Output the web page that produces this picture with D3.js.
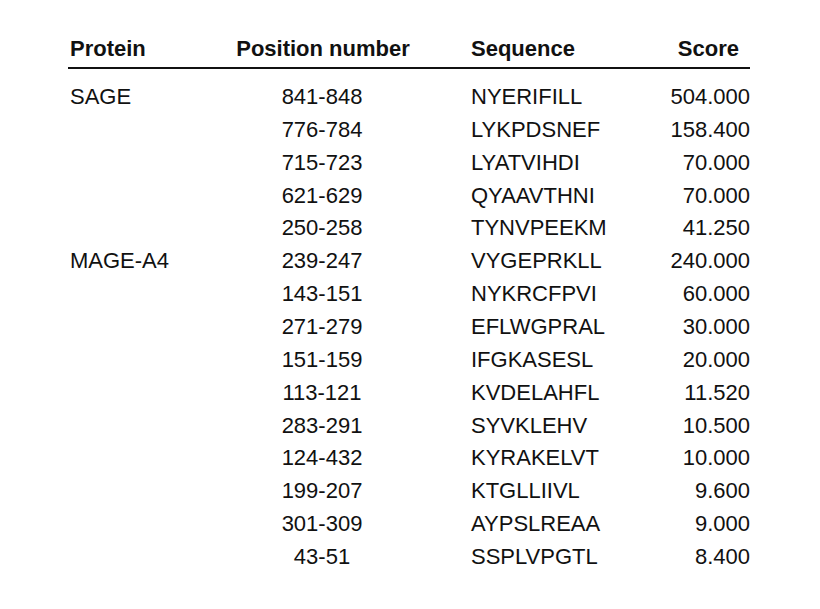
<!DOCTYPE html>
<html>
<head>
  <meta charset="utf8">
  <script src="https://d3js.org/d3.v7.min.js"></script>
  <style>
    body { margin: 0; background: #fff; }
    text { font-family: "Liberation Sans", Arial, sans-serif; fill: #111; font-size: 22px; }
    .head { font-weight: bold; font-size: 22px; }
  </style>
</head>
<body>
  <svg id="chart" width="820" height="609"></svg>
  <script>
    var headers = ['Protein', 'Position number', 'Sequence', 'Score'];
    var proteins = ['SAGE', '', '', '', '', 'MAGE-A4', '', '', '', '', '', '', '', '', ''];
    var positions = ['841-848', '776-784', '715-723', '621-629', '250-258', '239-247', '143-151',
      '271-279', '151-159', '113-121', '283-291', '124-432', '199-207', '301-309', '43-51'];
    var sequences = ['NYERIFILL', 'LYKPDSNEF', 'LYATVIHDI', 'QYAAVTHNI', 'TYNVPEEKM', 'VYGEPRKLL',
      'NYKRCFPVI', 'EFLWGPRAL', 'IFGKASESL', 'KVDELAHFL', 'SYVKLEHV', 'KYRAKELVT', 'KTGLLIIVL',
      'AYPSLREAA', 'SSPLVPGTL'];
    var scores = [504.000, 158.400, 70.000, 70.000, 41.250, 240.000, 60.000, 30.000, 20.000,
      11.520, 10.500, 10.000, 9.600, 9.000, 8.400];

    var svg = d3.select('#chart');
    var y = d3.scalePoint().domain(d3.range(positions.length)).range([96, 556]);

    var cols = [
      { x: 70, anchor: 'start' },
      { x: 322, anchor: 'middle' },
      { x: 471, anchor: 'start' },
      { x: 750, anchor: 'end' }
    ];
    var headX = [70, 323, 471, 739];

    svg.selectAll('.head').data(headers).enter().append('text')
      .attr('class', 'head')
      .attr('x', (d, i) => headX[i])
      .attr('y', 56)
      .attr('text-anchor', (d, i) => cols[i].anchor)
      .text(d => d);

    svg.append('line').attr('x1', 68).attr('x2', 750).attr('y1', 68).attr('y2', 68)
      .attr('stroke', '#111').attr('stroke-width', 2);

    var rows = positions.map((p, i) => [proteins[i], p, sequences[i], scores[i].toFixed(3)]);
    var g = svg.selectAll('.row').data(rows).enter().append('g')
      .attr('transform', (d, i) => 'translate(0,' + (y(i) + 8) + ')');
    g.selectAll('text').data(d => d).enter().append('text')
      .attr('x', (d, i) => cols[i].x)
      .attr('text-anchor', (d, i) => cols[i].anchor)
      .text(d => d);
  </script>
</body>
</html>
